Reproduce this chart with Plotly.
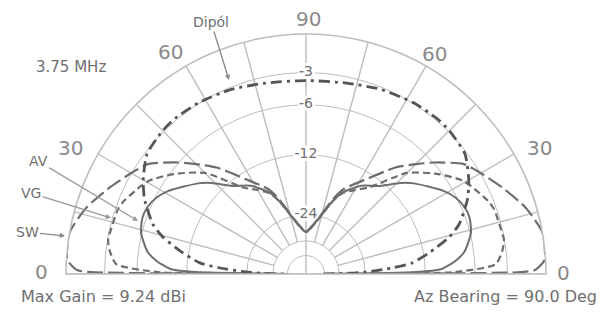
import plotly.graph_objects as go

# ---------------- data (elevation angle in degrees, relative gain in dB) ----------------
# patterns are symmetric about the zenith: values read for elevations 0..90
elev_dip = [0, 1, 2, 4, 6, 10, 14.5, 18, 25, 30, 37, 45, 50, 58, 68, 78, 90]
gain_dip = [-45, -29.6, -23.6, -17.6, -13.9, -11.05, -8.3, -6.85, -5.1, -4.2, -3.2, -2.9, -2.85, -2.95, -3.2, -3.55, -3.7]

elev_av = [0, 1, 2, 5, 8, 14, 19, 23, 27, 31, 40, 44, 50, 58, 66, 70, 77, 84, 90]
gain_av = [-45, -13.4, -9.9, -8.07, -6.96, -5.92, -5.62, -5.72, -6.12, -6.85, -9.13, -10.39, -12.63, -14.35, -17.0, -19.5, -24.7, -28.3, -29.9]

elev_vg = [0, 0.8, 3, 7, 10, 13, 19, 22, 28, 31, 37, 45, 54, 60, 66, 70, 77, 84, 90]
gain_vg = [-45, -8.07, -4.0, -3.3, -3.05, -3.13, -3.22, -3.48, -4.28, -4.75, -6.32, -8.89, -13.87, -15.55, -17.2, -19.5, -24.7, -28.3, -29.9]

elev_sw = [0, 0.5, 1, 3.4, 10, 17, 24, 31, 35, 41, 44.5, 50, 57, 66, 70, 77, 84, 90]
gain_sw = [-45, -1.89, -0.8, -0.07, 0, -0.8, -1.97, -3.13, -3.83, -5.92, -7.28, -9.37, -12.78, -16.27, -18.86, -24.4, -28.0, -29.9]

ring_db = [-3, -6, -12, -24, -34, -44]
ring_labels = ["-3", "-6", "-12", "-24", "", ""]
angle_ticks = [0, 15, 30, 45, 60, 75, 90, 105, 120, 135, 150, 165, 180]
angle_label_text = ["0", "30", "60", "90", "60", "30", "0"]


def arrl(db):
    # ARRL log scale: 0.89 radius factor per 2 dB
    return 0.89 ** (-db / 2.0)


def full_pattern(elev, gain):
    th = list(elev) + [180 - e for e in reversed(elev[:-1])]
    g = list(gain) + list(reversed(gain[:-1]))
    return th, [arrl(v) for v in g]


GRID = "#bdbdbd"
TXT = "#6f6f6f"
CURVE = "#6e6e6e"
FONT = "DejaVu Sans"

W, H = 601, 322
CX, CY, R = 306, 274, 240  # polar centre / radius in px (matches domain below)

fig = go.Figure()

ring_r = [arrl(d) for d in ring_db]

# spokes
r_in = ring_r[4]
for a in angle_ticks:
    if a in (0, 180):
        continue
    r0 = 0 if a == 90 else r_in
    fig.add_trace(go.Scatterpolar(r=[r0, 1], theta=[a, a], mode="lines",
                                  line=dict(color=GRID, width=1.4), hoverinfo="skip", showlegend=False))
# baseline
fig.add_trace(go.Scatterpolar(r=[1, 0, 1], theta=[0, 0, 180], mode="lines",
                              line=dict(color=GRID, width=1.6), hoverinfo="skip", showlegend=False))

# ring labels with white halo
halo = ", ".join(f"white {dx}px {dy}px 0px" for dx, dy in
                 [(3, 0), (-3, 0), (0, 3), (0, -3), (2, 2), (-2, -2), (2, -2), (-2, 2), (1, 3), (-1, 3), (1, -3), (-1, -3)])
fig.add_trace(go.Scatterpolar(r=ring_r[:4], theta=[90] * 4, mode="text", text=ring_labels[:4],
                              textposition="middle center",
                              textfont=dict(family=FONT, size=14, color=TXT, shadow=halo),
                              hoverinfo="skip", showlegend=False))

# patterns
th, r = full_pattern(elev_sw, gain_sw)
fig.add_trace(go.Scatterpolar(r=r, theta=th, mode="lines", name="SW",
                              line=dict(color=CURVE, width=2.2, dash="16px,5px", shape="spline", smoothing=0.6)))
th, r = full_pattern(elev_vg, gain_vg)
fig.add_trace(go.Scatterpolar(r=r, theta=th, mode="lines", name="VG",
                              line=dict(color=CURVE, width=2.2, dash="7px,4px", shape="spline", smoothing=0.6)))
th, r = full_pattern(elev_av, gain_av)
fig.add_trace(go.Scatterpolar(r=r, theta=th, mode="lines", name="AV",
                              line=dict(color=CURVE, width=2.0, shape="spline", smoothing=0.6)))
th, r = full_pattern(elev_dip, gain_dip)
fig.add_trace(go.Scatterpolar(r=r, theta=th, mode="lines", name="Dipól",
                              line=dict(color="#555555", width=2.8, dash="11px,5px,3px,5px", shape="spline", smoothing=0.6)))


def px(x):
    return x / W


def py(y):
    return 1 - y / H


annotations = [
    dict(text="3.75 MHz", x=px(34), y=py(67), xanchor="left", yanchor="middle", showarrow=False,
         font=dict(family=FONT, size=15, color=TXT)),
    dict(text="Max Gain = 9.24 dBi", x=px(19), y=py(296), xanchor="left", yanchor="middle", showarrow=False,
         font=dict(family=FONT, size=16, color=TXT)),
    dict(text="Az Bearing = 90.0 Deg", x=px(599), y=py(296), xanchor="right", yanchor="middle", showarrow=False,
         font=dict(family=FONT, size=16, color=TXT)),
    dict(text="Dipól", x=px(229), y=py(80), ax=-18, ay=-58, showarrow=True, arrowhead=2, arrowsize=0.8,
         arrowwidth=1.3, arrowcolor="#888", font=dict(family=FONT, size=14, color=TXT)),
    dict(text="AV", x=px(138), y=py(221), ax=-100, ay=-60, showarrow=True, arrowhead=2, arrowsize=0.8,
         arrowwidth=1.3, arrowcolor="#999", font=dict(family=FONT, size=14, color=TXT)),
    dict(text="VG", x=px(111), y=py(218), ax=-80, ay=-25, showarrow=True, arrowhead=2, arrowsize=0.8,
         arrowwidth=1.3, arrowcolor="#999", font=dict(family=FONT, size=14, color=TXT)),
    dict(text="SW", x=px(65), y=py(236), ax=-38, ay=-4, showarrow=True, arrowhead=2, arrowsize=0.8,
         arrowwidth=1.3, arrowcolor="#888", font=dict(family=FONT, size=14, color=TXT)),
]

# elevation labels outside the outer ring (pixel positions as in the reference)
label_pos = [(563, 273), (539, 148), (434, 54), (308, 19), (170, 52), (70, 148), (42, 272)]
for (x, y), t in zip(label_pos, angle_label_text):
    annotations.append(dict(text=t, x=px(x), y=py(y), xanchor="center", yanchor="middle", showarrow=False,
                            font=dict(family=FONT, size=20, color="#8a8a8a")))

fig.update_layout(
    width=W, height=H, margin=dict(l=0, r=0, t=0, b=0),
    paper_bgcolor="white", showlegend=False,
    annotations=annotations,
    polar=dict(
        domain=dict(x=[(CX - R) / W, (CX + R) / W], y=[(H - CY) / H, (H - CY + R) / H]),
        sector=[0, 180],
        bgcolor="white",
        angularaxis=dict(rotation=0, direction="counterclockwise",
                         tickmode="array", tickvals=angle_ticks, showticklabels=False,
                         showgrid=False, ticks="", showline=True, linecolor=GRID, linewidth=1.6),
        radialaxis=dict(range=[0, 1], tickmode="array", tickvals=ring_r, showgrid=True,
                        gridcolor=GRID, gridwidth=1.4, showline=False, showticklabels=False, ticks=""),
    ),
)

fig.write_html("out.html", config={"displayModeBar": False},
               post_script="document.body.style.margin='0';document.body.style.overflow='hidden';")
